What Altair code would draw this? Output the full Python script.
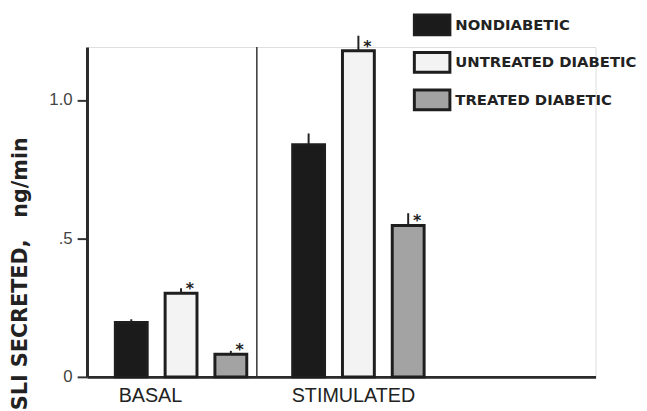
import altair as alt
import pandas as pd

# ---- data ----
groups = ["BASAL", "BASAL", "BASAL", "STIMULATED", "STIMULATED", "STIMULATED"]
series = ["NONDIABETIC", "UNTREATED DIABETIC", "TREATED DIABETIC",
          "NONDIABETIC", "UNTREATED DIABETIC", "TREATED DIABETIC"]
means = [0.196, 0.302, 0.082, 0.838, 1.178, 0.547]
err_tops = [0.208, 0.320, 0.094, 0.879, 1.232, 0.591]
significant = [False, True, True, False, True, True]

group_order = ["BASAL", "STIMULATED"]
series_order = ["NONDIABETIC", "UNTREATED DIABETIC", "TREATED DIABETIC"]
fills = ["#1b1b1b", "#f3f3f3", "#a3a3a3"]
y_ticks = [0, 0.5, 1.0]
y_title = "SLI SECRETED,\u00a0\u00a0\u00a0ng/min"

df = pd.DataFrame({
    "group": groups,
    "series": series,
    "mean": means,
    "err": err_tops,
    "sig": significant,
})

W, H = 515, 334

x_enc = alt.X(
    "group:N",
    sort=group_order,
    scale=alt.Scale(domain=group_order, paddingInner=0, paddingOuter=0.4338, align=0.035),
    axis=alt.Axis(
        title=None, ticks=False, domainWidth=3, domainColor="#2a2a2a",
        labelFont="Liberation Sans", labelFontSize=20, labelColor="#222",
        labelPadding=9, labelAngle=0,
        labelOffset={"condition": {"test": "datum.value === 'BASAL'", "value": -31}, "value": -5},
    ),
)
xoff_enc = alt.XOffset(
    "series:N", sort=series_order,
    scale=alt.Scale(domain=series_order, paddingInner=0.36, paddingOuter=0.461),
)
y_scale = alt.Scale(domain=[0, 1.191], nice=False, zero=True)

base = alt.Chart(df).encode(x=x_enc, xOffset=xoff_enc)

bars = base.mark_bar(stroke="#1e1e1e", strokeWidth=3).encode(
    y=alt.Y(
        "mean:Q", scale=y_scale,
        axis=alt.Axis(
            values=y_ticks,
            labelExpr="datum.value == 0 ? '0' : (datum.value == 0.5 ? '.5' : '1.0')",
            tickSize=10, tickWidth=2, tickColor="#333",
            domainWidth=3, domainColor="#2a2a2a",
            labelFont="Liberation Sans", labelFontSize=17, labelColor="#444",
            labelPadding=5, grid=False,
            title=y_title,
            titleFont="DejaVu Sans", titleFontWeight="bold", titleFontSize=21,
            titleColor="#222", titleX=-61, titleY=229, titleAngle=270,
            titleAlign="center", titleBaseline="alphabetic",
        ),
    ),
    fill=alt.Fill(
        "series:N", sort=series_order,
        scale=alt.Scale(domain=series_order, range=fills),
        legend=alt.Legend(
            title=None, orient="none", legendX=338, legendY=-34,
            symbolType="M-1.8,-1H1.8V1H-1.8Z", symbolSize=400,
            symbolStrokeColor="#1e1e1e", symbolStrokeWidth=3, symbolOpacity=1,
            labelFont="DejaVu Sans", labelFontWeight="bold", labelFontSize=15,
            labelColor="#222", labelOffset=12, labelLimit=400,
            rowPadding=5, padding=0,
        ),
    ),
)

errs = base.mark_rule(color="#222", strokeWidth=2).encode(
    y=alt.Y("mean:Q", scale=y_scale), y2="err:Q"
)

stars = base.transform_filter("datum.sig").mark_text(
    text="*", dx=9, dy=1, font="DejaVu Sans", fontWeight="bold",
    fontSize=16, color="#222", baseline="alphabetic",
).encode(y=alt.Y("mean:Q", scale=y_scale))

divider = alt.Chart(pd.DataFrame({"d": [0]})).mark_rule(
    color="#333", strokeWidth=1.5
).encode(x=alt.value(172), y=alt.value(0), y2=alt.value(H))

chart = alt.layer(divider, bars, errs, stars).properties(
    width=W, height=H,
    autosize=alt.AutoSizeParams(type="none"),
    padding={"left": 80, "top": 37, "right": 44, "bottom": 32},
).configure_view(stroke=None).configure(background="white")

chart.save("out.html", embed_options={"renderer": "svg", "actions": False})
